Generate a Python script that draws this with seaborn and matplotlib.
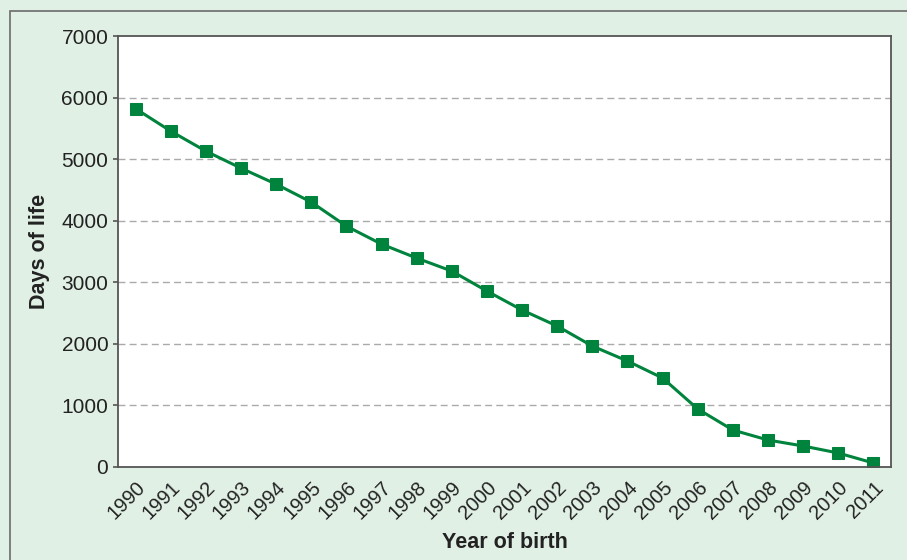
import matplotlib
matplotlib.use("Agg")
import matplotlib.pyplot as plt
import matplotlib.transforms as mtransforms
import seaborn as sns
import pandas as pd
from matplotlib.patches import Rectangle

years = [str(y) for y in range(1990, 2012)]
days = [5820, 5455, 5130, 4854, 4594, 4302, 3912, 3620, 3393, 3182, 2857,
        2549, 2289, 1964, 1721, 1445, 942, 600, 438, 341, 227, 65]
yticks = [0, 1000, 2000, 3000, 4000, 5000, 6000, 7000]

df = pd.DataFrame({"Year of birth": years, "Days of life": days})

sns.set_theme(style="white")
plt.rcParams['font.family'] = ['Liberation Sans', 'DejaVu Sans']

bg = "#e1f0e5"
green = "#00843d"
W, H = 907, 560
fig = plt.figure(figsize=(W / 100, H / 100), dpi=100, facecolor=bg)
fig.patches.append(Rectangle((10 / W, -0.5), 2, 1.5 - 11 / H, transform=fig.transFigure,
                             facecolor="none", edgecolor="#6b6b6b", linewidth=1.2, zorder=0))
ax = fig.add_axes([118 / W, 1 - 467 / H, (891 - 118) / W, (467 - 36) / H])
ax.set_facecolor("white")

sns.lineplot(data=df, x="Year of birth", y="Days of life", ax=ax, color=green,
             linewidth=2.2, marker="s", markersize=9, markeredgecolor=green,
             markerfacecolor=green, sort=False)

ax.set_xlim(-0.5, len(years) - 0.5)
ax.set_ylim(0, 7000)
ax.set_yticks(yticks)
ax.set_yticklabels([str(t) for t in yticks], fontsize=15, color="#222222")
ax.set_xticks(range(len(years)))
ax.set_xticklabels(years, rotation=45, ha="right", rotation_mode="anchor",
                   fontsize=14.5, color="#222222")
offset = mtransforms.ScaledTranslation(6 / 100, 0, fig.dpi_scale_trans)
for lab in ax.get_xticklabels():
    lab.set_transform(lab.get_transform() + offset)
ax.tick_params(axis="y", which="both", left=True, length=3.8, width=1.2, color="#555555", pad=3.2)
ax.tick_params(axis="x", bottom=False, pad=2)
for y in yticks[1:-1]:
    ax.axhline(y, color="#aaaaaa", linestyle=(0, (5, 3)), linewidth=1.0, zorder=0)
for s in ax.spines.values():
    s.set_visible(True)
    s.set_color("#555555")
    s.set_linewidth(1.3)

ax.set_xlabel("Year of birth", fontsize=15.5, fontweight="bold", color="#222222", labelpad=6)
ax.set_ylabel("Days of life", fontsize=15.5, fontweight="bold", color="#222222", labelpad=8)

fig.savefig("out.png", dpi=100, facecolor=bg)
